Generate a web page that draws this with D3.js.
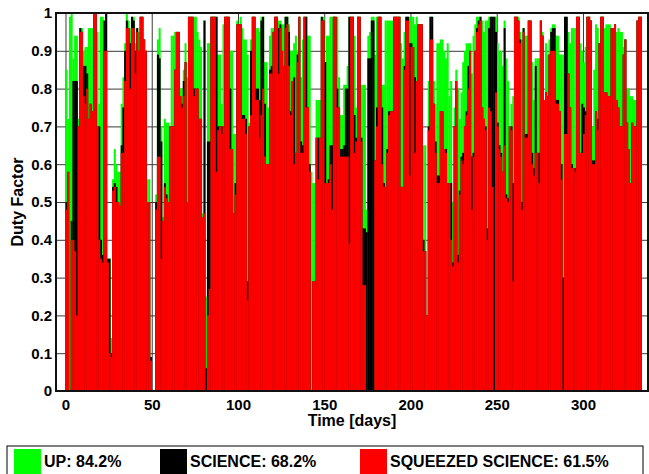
<!DOCTYPE html>
<html lang="en">
  <head>
    <meta charset="UTF-8" />
    <title>Duty Factor</title>
    <style>
      body {
        margin: 0;
        overflow: hidden;
        background: #fff;
      }
      text {
        font-family: "Liberation Sans", Arial, sans-serif;
        font-weight: bold;
        fill: #000;
      }
      .tick text {
        font-size: 15px;
      }
      .grid line {
        stroke: #3a3a3a;
        stroke-width: 1px;
      }
      .grid .domain {
        display: none;
      }
      .label {
        font-size: 16px;
      }
    </style>
    <script src="https://unpkg.com/d3@7.8.1/dist/d3.min.js"></script>
  </head>
  <body>
    <script>
      const { select, scaleLinear, axisLeft, axisBottom, range } = d3;

      // one bar per day
      const days = range(0, 334);

      const upVals = [
        0.85,0.72,0.99,1.0,0.88,0.94,0.94,0.72,0.96,0.96,
        0.9,0.91,0.91,0.96,0.96,0.96,1.0,1.0,0.95,0.76,
        0.99,0.99,0.98,1.0,0.35,0.35,0.14,0.56,0.64,0.6,
        0.58,0.58,0.76,0.83,0.92,1.0,0.98,0.96,0.99,0.99,
        0.92,0.96,0.95,0.99,0.99,0.93,0.9,0.56,0.56,0.09,
        0,0,0.52,0.93,0.96,0.7,0.46,0.72,0.71,0.71,
        0.7,0.94,0.94,0.95,0.95,0.95,0.8,0.8,0.85,0.92,
        0.83,0.99,0.99,0.99,0.99,0.99,0.95,0.93,0.91,0.47,
        0.98,0.25,0.92,0.92,0.99,0.99,0.99,0.99,0.89,0.89,
        0.76,0.97,0.99,0.99,0.99,0.9,0.9,0.68,0.68,0.98,
        0.97,0.99,0.96,0.93,0.93,0.89,0.71,0.93,0.99,0.99,
        0.96,0.96,0.95,0.99,0.99,0.87,0.87,0.75,0.94,0.96,
        0.96,0.99,0.99,0.98,0.98,0.97,0.97,0.99,0.99,0.97,
        0.9,0.9,0.92,0.94,0.9,0.99,0.83,0.93,0.99,0.99,
        0.94,0.94,0.58,0.55,0.55,0.77,0.77,0.77,0.99,0.99,
        0.87,0.94,0.94,0.99,0.99,0.99,0.99,0.99,0.83,0.73,
        0.73,0.81,0.81,0.86,0.99,0.99,0.99,0.94,0.75,0.99,
        0.99,0.81,0.81,0.81,0.48,0.94,0.95,0.99,0.99,0.89,
        0.99,0.99,0.99,0.81,0.81,0.98,0.98,0.98,0.98,0.98,
        0.99,0.99,0.99,0.99,0.92,0.88,0.95,0.99,0.99,0.99,
        0.99,0.99,0.97,0.99,0.97,0.97,0.97,0.65,0.65,0.2,
        0.82,0.99,0.99,0.82,0.76,0.92,0.92,0.93,0.93,0.9,
        0.88,0.92,0.78,0.82,0.5,0.75,0.85,0.8,0.72,0.79,
        0.87,0.9,0.92,0.92,0.92,0.84,0.94,0.97,0.99,0.99,
        0.99,0.98,0.95,0.98,0.98,0.99,0.99,0.99,0.99,0.99,
        0.92,0.9,0.9,0.86,0.98,0.88,0.82,0.7,0.76,0.78,
        0.99,0.99,0.99,0.95,0.93,0.96,0.94,0.94,0.98,0.98,
        0.87,0.77,0.88,0.88,0.88,0.98,0.95,0.77,0.92,0.89,
        0.93,0.96,0.97,0.97,0.94,0.94,0.89,0.89,0.89,0.99,
        0.99,0.95,0.92,0.96,0.96,0.96,0.99,0.99,0.92,0.9,
        0.87,0.91,0.99,0.99,0.98,0.7,0.85,0.97,0.96,0.92,
        0.99,0.99,0.96,0.97,0.97,0.97,0.96,0.96,0.97,0.95,
        0.96,0.95,0.95,0.91,0.93,0.8,0.8,0.78,0.78,0.77,
        0.77,0.98,0.99,0.99
      ];

      const sciVals = [
        0.5,0.58,0,0.45,0.82,0.82,0.82,0.7,0.96,0.95,
        0.86,0.86,0.84,0.72,0.76,0.74,1.0,1.0,0.7,0.7,
        0.4,0.36,0.98,1.0,0.35,0.35,0.1,0.54,0.55,0.54,
        0.5,0.49,0.65,0.75,0.9,0.98,0.96,0.92,0.99,0.98,
        0.9,0.96,0.9,0.99,0.99,0.93,0.9,0.5,0.5,0.09,
        0,0,0.5,0.89,0.88,0.66,0.45,0.55,0.52,0.5,
        0.7,0.7,0.7,0.85,0.95,0.95,0.78,0.76,0.82,0.87,
        0.5,0.99,0.99,0.99,0.8,0.8,0.8,0.72,0.72,0.46,
        0.98,0.06,0.66,0.66,0.99,0.99,0.99,0.99,0.7,0.7,
        0.7,0.7,0.99,0.99,0.99,0.8,0.64,0.47,0.55,0.97,
        0.97,0.97,0.73,0.73,0.72,0.29,0.7,0.9,0.99,0.99,
        0.8,0.8,0.77,0.98,0.99,0.76,0.6,0.6,0.85,0.86,
        0.95,0.99,0.99,0.96,0.97,0.9,0.86,0.99,0.99,0.95,
        0.74,0.82,0.83,0.63,0.89,0.99,0.66,0.65,0.99,0.99,
        0.75,0.6,0,0.29,0.29,0.67,0.67,0.67,0.99,0.98,
        0.87,0.55,0.56,0.65,0.65,0.99,0.99,0.8,0.75,0.64,
        0.64,0.65,0.8,0.8,0.99,0.99,0.99,0.73,0.67,0.99,
        0.99,0.67,0.43,0.43,0.42,0.88,0.88,0.98,0.98,0.61,
        0.75,0.99,0.99,0.75,0.55,0.54,0.64,0.74,0.74,0.74,
        0.99,0.99,0.99,0.99,0.54,0.54,0.86,0.99,0.99,0.92,
        0.92,0.91,0.83,0.82,0.97,0.97,0.97,0.4,0.37,0.2,
        0.7,0.99,0.99,0.76,0.66,0.57,0.57,0.74,0.74,0.64,
        0.64,0.55,0.55,0.55,0.34,0.7,0.82,0.36,0.53,0.62,
        0.63,0.7,0.74,0.86,0.9,0.62,0.63,0.9,0.96,0.98,
        0.99,0.75,0.72,0.7,0.43,0.96,0.99,0.99,0.99,0.95,
        0.71,0.65,0.63,0.58,0.96,0.52,0.51,0.7,0.7,0.55,
        0.99,0.99,0.98,0.93,0.5,0.96,0.68,0.68,0.98,0.98,
        0.63,0.59,0.86,0.63,0.63,0.98,0.94,0.77,0.79,0.78,
        0.89,0.95,0.96,0.96,0.77,0.77,0.74,0.6,0.3,0.99,
        0.99,0.84,0.75,0.6,0.59,0.59,0.99,0.99,0.63,0.76,
        0.75,0.74,0.99,0.99,0.98,0.61,0.61,0.74,0.72,0.92,
        0.99,0.99,0.79,0.79,0.78,0.78,0.96,0.96,0.97,0.77,
        0.75,0.7,0.7,0.89,0.93,0.71,0.64,0.55,0.71,0.7,
        0.7,0.98,0.99,0.99
      ];

      const sqzVals = [
        0.48,0.58,0,0.4,0.4,0.37,0.2,0.7,0.95,0.95,
        0.78,0.76,0.8,0.72,0.76,0.74,1.0,1.0,0.7,0.4,
        0.35,0.34,0.9,0.9,0.34,0.1,0.09,0.53,0.54,0.5,
        0.5,0.49,0.63,0.63,0.82,0.96,0.96,0.8,0.96,0.96,
        0.84,0.95,0.9,0.99,0.99,0.93,0.9,0.5,0.5,0.08,
        0,0,0.48,0.62,0.62,0.35,0.45,0.54,0.51,0.5,
        0.7,0.7,0.7,0.85,0.95,0.95,0.78,0.75,0.78,0.87,
        0.5,0.99,0.99,0.99,0.78,0.8,0.8,0.72,0.72,0.46,
        0.47,0,0.2,0.27,0.99,0.99,0.99,0.58,0.69,0.7,
        0.68,0.7,0.99,0.99,0.99,0.64,0.64,0.47,0.52,0.97,
        0.97,0.97,0.72,0.72,0.68,0.24,0.7,0.73,0.99,0.99,
        0.77,0.77,0.67,0.73,0.8,0.62,0.6,0.6,0.84,0.84,
        0.95,0.99,0.99,0.84,0.96,0.9,0.86,0.96,0.97,0.86,
        0.73,0.82,0.6,0.63,0.87,0.99,0.63,0.63,0.99,0.75,
        0.75,0.58,0,0.29,0.29,0.67,0.56,0.67,0.98,0.98,
        0.55,0.55,0.55,0.6,0.48,0.99,0.99,0.75,0.75,0.62,
        0.62,0.62,0.62,0.62,0.39,0.99,0.99,0.63,0.66,0.99,
        0.99,0.66,0.28,0.28,0,0,0,0,0,0.61,
        0.7,0.99,0.99,0.6,0.54,0.54,0.63,0.73,0.74,0.74,
        0.99,0.99,0.99,0.99,0.54,0.54,0.85,0.98,0.98,0.57,
        0.91,0.91,0.63,0.82,0.97,0.97,0.97,0.37,0.37,0.2,
        0.69,0.93,0.93,0.76,0.63,0.55,0.55,0.74,0.74,0.64,
        0.63,0.55,0.55,0.4,0.33,0.7,0.82,0.34,0.52,0.61,
        0.6,0.7,0.73,0.8,0.9,0.48,0.62,0.9,0.95,0.97,
        0.98,0.75,0.72,0.69,0.4,0.75,0.74,0.54,0,0.79,
        0.7,0.64,0.62,0.58,0.65,0.51,0.5,0.7,0.69,0.29,
        0.99,0.99,0.98,0.92,0.48,0.95,0.67,0.67,0.98,0.98,
        0.6,0.57,0.63,0.63,0.55,0.98,0.94,0.77,0.79,0.78,
        0.89,0.9,0.9,0.9,0.76,0.76,0.74,0.56,0,0.68,
        0.68,0.84,0.75,0.59,0.59,0.58,0.99,0.99,0.63,0.63,
        0.68,0.73,0.99,0.99,0.98,0.6,0.6,0.74,0.69,0.92,
        0.99,0.99,0.79,0.79,0.78,0.78,0.96,0.96,0.97,0.77,
        0.75,0.7,0.7,0.89,0.93,0.71,0.64,0.55,0.71,0.7,
        0.7,0.98,0.99,0.99
      ];

      const xTicks = [0, 50, 100, 150, 200, 250, 300];
      const yTicks = [0, 0.1, 0.2, 0.3, 0.4, 0.5, 0.6, 0.7, 0.8, 0.9, 1];
      const legendLabels = ["UP: 84.2%", "SCIENCE: 68.2%", "SQUEEZED SCIENCE: 61.5%"];
      const seriesColors = ["#00ff00", "#000000", "#ff0000"];

      const width = 649;
      const height = 474;
      const plot = { left: 56, right: 648, top: 13, bottom: 391 };

      const svg = select("body")
        .append("svg")
        .attr("width", width)
        .attr("height", height);

      const x = scaleLinear()
        .domain([-5.5, 337.7])
        .range([plot.left, plot.right]);

      const y = scaleLinear()
        .domain([0, 1])
        .range([plot.bottom, plot.top]);

      // grid behind the bars
      svg.append("g")
        .attr("class", "grid")
        .attr("transform", `translate(${plot.left},0)`)
        .call(axisLeft(y).tickValues(yTicks).tickSize(-(plot.right - plot.left)).tickFormat(""));

      svg.append("g")
        .attr("class", "grid")
        .attr("transform", `translate(0,${plot.bottom})`)
        .call(axisBottom(x).tickValues(xTicks).tickSize(-(plot.bottom - plot.top)).tickFormat(""));

      // green first, then black, red on top
      const series = [upVals, sciVals, sqzVals];
      const barW = x(1) - x(0) + 0.3;

      series.forEach((vals, i) => {
        svg.append("g")
          .selectAll("rect")
          .data(days)
          .join("rect")
          .attr("x", d => x(d))
          .attr("y", d => y(vals[d]))
          .attr("width", barW)
          .attr("height", d => y(0) - y(vals[d]))
          .attr("fill", seriesColors[i]);
      });

      // frame
      svg.append("rect")
        .attr("x", plot.left)
        .attr("y", plot.top)
        .attr("width", plot.right - plot.left)
        .attr("height", plot.bottom - plot.top)
        .attr("fill", "none")
        .attr("stroke", "#111")
        .attr("stroke-width", 2);

      // tick labels
      const yAxis = svg.append("g")
        .attr("transform", `translate(${plot.left},0)`)
        .call(axisLeft(y).tickValues(yTicks).tickSize(0).tickPadding(4)
          .tickFormat(d => String(+d.toFixed(1))));
      yAxis.select(".domain").remove();

      const xAxis = svg.append("g")
        .attr("transform", `translate(0,${plot.bottom})`)
        .call(axisBottom(x).tickValues(xTicks).tickSize(0).tickPadding(8));
      xAxis.select(".domain").remove();

      // axis titles
      svg.append("text")
        .attr("class", "label")
        .attr("x", (plot.left + plot.right) / 2)
        .attr("y", 426)
        .attr("text-anchor", "middle")
        .text("Time [days]");

      svg.append("text")
        .attr("class", "label")
        .attr("transform", `translate(23,${(plot.top + plot.bottom) / 2}) rotate(-90)`)
        .attr("text-anchor", "middle")
        .text("Duty Factor");

      // legend
      const legend = svg.append("g");
      legend.append("rect")
        .attr("x", 7)
        .attr("y", 446)
        .attr("width", 636)
        .attr("height", 40)
        .attr("fill", "#fff")
        .attr("stroke", "#000")
        .attr("stroke-width", 1);

      const swatchX = [14, 160, 360];
      legendLabels.forEach((lab, i) => {
        legend.append("rect")
          .attr("x", swatchX[i])
          .attr("y", 449)
          .attr("width", 27)
          .attr("height", 26)
          .attr("fill", seriesColors[i]);
        legend.append("text")
          .attr("class", "label")
          .attr("x", swatchX[i] + 30)
          .attr("y", 467)
          .text(lab);
      });
    </script>
  </body>
</html>
